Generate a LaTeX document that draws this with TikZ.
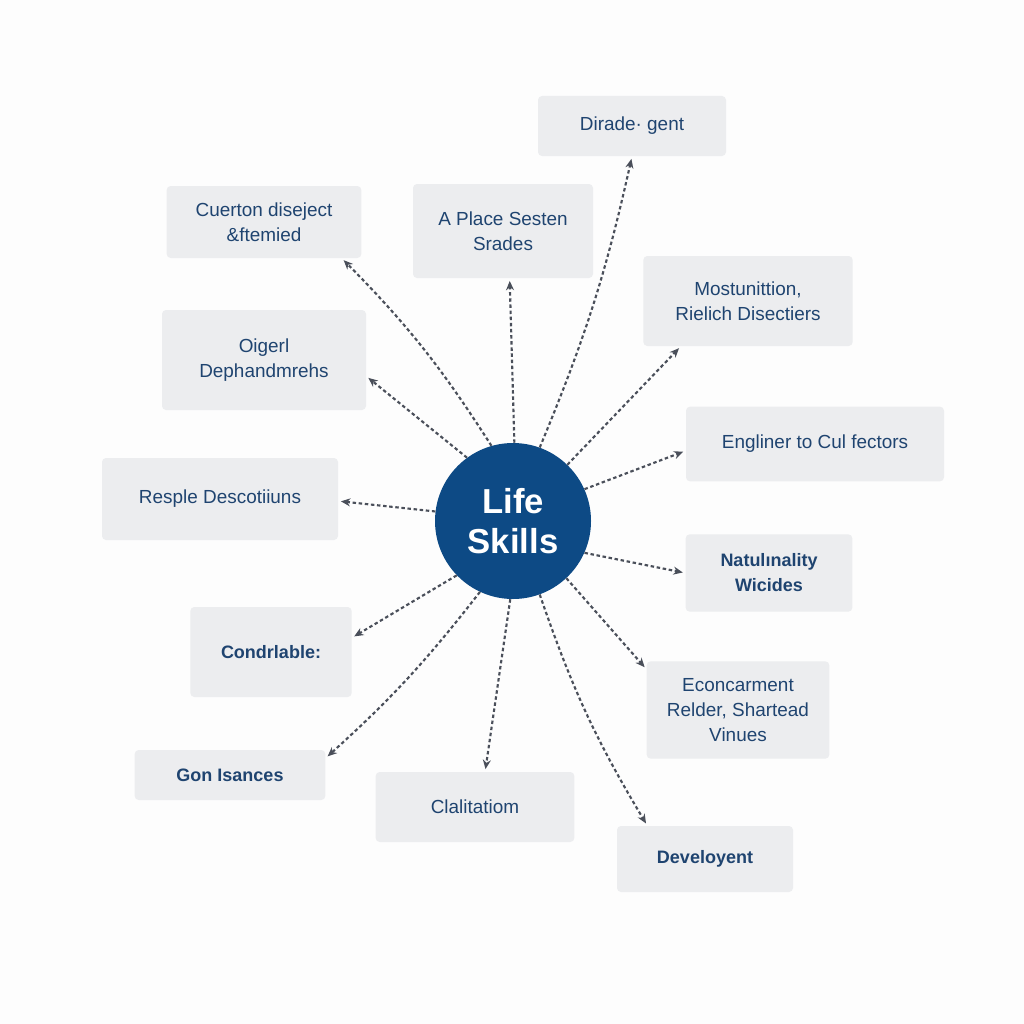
\documentclass[tikz,border=0pt]{standalone}
\usepackage{fontspec}
\setmainfont{Liberation Sans}
\usetikzlibrary{arrows.meta}
\definecolor{boxfill}{HTML}{ECEDEF}
\definecolor{txt}{HTML}{1F4470}
\definecolor{hub}{HTML}{0D4A85}
\definecolor{arr}{HTML}{4A4F5A}
\definecolor{bg}{HTML}{FDFDFD}
\tikzset{
  box/.style={fill=boxfill, rounded corners=3pt, text=txt, align=center,
    font=\fontsize{14.2pt}{18.75pt}\selectfont, inner sep=2pt},
  bbox/.style={box, font=\fontsize{13.5pt}{18.75pt}\selectfont\bfseries},
  hubnode/.style={circle, fill=hub, text=white, minimum size=117pt, inner sep=0pt,
    align=center, font=\fontsize{26pt}{30pt}\selectfont\bfseries},
  conn/.style={draw=arr, line width=1.6pt, dash pattern=on 2.6pt off 2pt,
    -{Stealth[length=7pt,width=6pt]}, shorten >=2pt}
}
\begin{document}
\begin{tikzpicture}[x=0.75pt,y=-0.75pt]
\fill[bg] (0,0) rectangle (1024,1024);
\useasboundingbox (0,0) rectangle (1024,1024);
\node[hubnode] (c) at (513,521) {Life\\Skills};
\node[box, minimum width=141pt, minimum height=45pt] (dir) at (632,126) {Dirade· gent};
\node[box, minimum width=135pt, minimum height=70.5pt] (ap) at (503,231) {A Place Sesten\\Srades};
\node[box, minimum width=146pt, minimum height=54pt] (cu) at (264,222) {Cuerton diseject\\\&ftemied};
\node[box, minimum width=157pt, minimum height=67.5pt] (mo) at (748,301) {Mostunittion,\\Rielich Disectiers};
\node[box, minimum width=153pt, minimum height=75pt] (oi) at (264,360) {Oigerl\\Dephandmrehs};
\node[box, minimum width=193.5pt, minimum height=56pt] (en) at (815,444) {Engliner to Cul fectors};
\node[box, minimum width=177pt, minimum height=61.5pt] (re) at (220,499) {Resple Descotiiuns};
\node[bbox, minimum width=125pt, minimum height=58pt] (na) at (769,573) {Natulınality\\Wicides};
\node[bbox, minimum width=121pt, minimum height=67.5pt] (co) at (271,652) {Condrlable:};
\node[bbox, minimum width=143pt, minimum height=37.5pt] (go) at (230,775) {Gon Isances};
\node[box, minimum width=149pt, minimum height=52.5pt] (cl) at (475,807) {Clalitatiom};
\node[box, minimum width=137pt, minimum height=73pt] (ec) at (738,710) {Econcarment\\Relder, Shartead\\Vinues};
\node[bbox, minimum width=132pt, minimum height=49.5pt] (de) at (705,859) {Develoyent};
\draw[conn] (c.70) to[bend right=5] (dir.south);
\draw[conn] (c.89) to (ap.-82);
\draw[conn] (c.106) to[bend right=6] (cu.-25);
\draw[conn] (c.46) to (mo.-146);
\draw[conn] (c.126) to (oi.-9);
\draw[conn] (c.24) to (en.-177);
\draw[conn] (c.173) to (re.-1);
\draw[conn] (c.-24) to (na.west);
\draw[conn] (c.-136) to (co.10);
\draw[conn] (c.-115) to[bend left=5] (go.10);
\draw[conn] (c.-92) to (cl.74);
\draw[conn] (c.-47) to (ec.156);
\draw[conn] (c.-70) to[bend right=6] (de.150);
\end{tikzpicture}
\end{document}
